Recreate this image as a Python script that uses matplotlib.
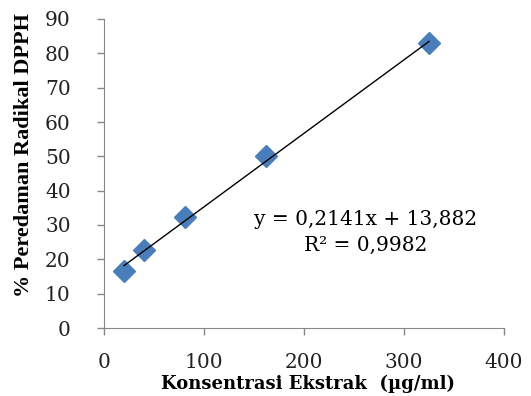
import matplotlib
matplotlib.use("Agg")
import matplotlib.pyplot as plt
import numpy as np

# Concentration (ug/ml) vs % DPPH radical scavenging
konsentrasi = [20, 40, 81, 162, 325]
peredaman = [16.7, 22.7, 32.4, 50.1, 83.1]

# Linear trendline reported on the chart
slope = 0.2141
intercept = 13.882
r_squared = 0.9982

x_ticks = [0, 100, 200, 300, 400]
y_ticks = [0, 10, 20, 30, 40, 50, 60, 70, 80, 90]

plt.rcParams["font.family"] = ["DejaVu Serif"]

fig = plt.figure(figsize=(5.31, 3.96), dpi=100)
ax = fig.add_axes([104 / 531, 1 - 328 / 396, 400 / 531, 309 / 396])

ax.plot(konsentrasi, peredaman, linestyle="none", marker="D", markersize=11,
        color="#4a7ebb", markeredgecolor="#4a7ebb", zorder=2)

xs = np.array([min(konsentrasi), max(konsentrasi)])
ax.plot(xs, slope * xs + intercept, color="black", lw=1, zorder=3)

eq = f"y = {slope}x + {intercept}".replace(".", ",")
ax.text(262, 31.7, eq, ha="center", va="center", fontsize=14.5)
ax.text(262, 24.2, f"R² = {r_squared}".replace(".", ","), ha="center",
        va="center", fontsize=14.5)

ax.set_xlim(0, 400)
ax.set_ylim(0, 90)
ax.set_xticks(x_ticks)
ax.set_yticks(y_ticks)
ax.tick_params(labelsize=14.5, color="#888888", length=5, width=1,
               labelcolor="#222222")
ax.tick_params(axis="x", pad=13)
ax.tick_params(axis="y", pad=19)
for side in ("top", "right"):
    ax.spines[side].set_visible(False)
for side in ("left", "bottom"):
    ax.spines[side].set_color("#888888")

ax.set_xlabel("Konsentrasi Ekstrak  (µg/ml)", fontsize=13, fontweight="bold")
ylab = ax.set_ylabel("% Peredaman Radikal DPPH", fontsize=16, fontweight="bold")
ylab.set_fontfamily("Liberation Serif")
ax.xaxis.set_label_coords(0.51, -0.15)
ax.yaxis.set_label_coords(-0.175, 0.56)

fig.savefig("out.png", dpi=100)
